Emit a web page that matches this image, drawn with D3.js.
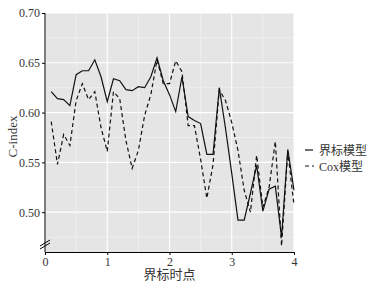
<!DOCTYPE html>
<html>
<head>
<meta charset="utf-8">
<script src="https://cdn.jsdelivr.net/npm/d3@7"></script>
<style>
  html, body { margin: 0; padding: 0; background: #fff; }
  svg { display: block; }
  text { font-family: "Liberation Serif", "Times New Roman", "Noto Sans CJK SC", serif; fill: #333; }
</style>
</head>
<body>
<svg id="chart" width="380" height="286"></svg>
<script>
// ---- data ----
const times = [0.1,0.2,0.3,0.4,0.5,0.6,0.7,0.8,0.9,1.0,
               1.1,1.2,1.3,1.4,1.5,1.6,1.7,1.8,1.9,2.0,
               2.1,2.2,2.3,2.4,2.5,2.6,2.7,2.8,2.9,3.0,
               3.1,3.2,3.3,3.4,3.5,3.6,3.7,3.8,3.9,4.0];
const landmarkValues = [0.621,0.614,0.613,0.607,0.638,0.642,0.642,0.653,0.636,0.611,
                        0.634,0.632,0.623,0.622,0.626,0.625,0.636,0.655,0.632,0.618,
                        0.601,0.636,0.596,0.592,0.589,0.558,0.558,0.625,0.584,0.539,
                        0.492,0.492,0.519,0.547,0.501,0.523,0.526,0.475,0.563,0.522];
const coxValues = [0.591,0.548,0.578,0.567,0.612,0.629,0.613,0.621,0.585,0.561,
                   0.621,0.614,0.572,0.544,0.562,0.597,0.618,0.653,0.629,0.629,
                   0.652,0.641,0.587,0.587,0.553,0.514,0.548,0.623,0.612,0.590,
                   0.562,0.522,0.500,0.557,0.505,0.525,0.571,0.466,0.561,0.507];
const seriesNames = ["界标模型", "Cox模型"];
const xTicks = [0,1,2,3,4];
const xMinorTicks = [0.5,1.5,2.5,3.5];
const yTicks = [0.50,0.55,0.60,0.65,0.70];
const yMinorTicks = [0.475,0.525,0.575,0.625,0.675];
const xTitle = "界标时点";
const yTitle = "C-index";

// ---- layout ----
const svg = d3.select("#chart");
const pL = 45, pR = 294, pT = 13, pB = 252;
const x = d3.scaleLinear().domain([0,4]).range([pL,pR]);
const y = d3.scaleLinear().domain([0.46,0.70]).range([pB,pT]);
const serif = '"Liberation Serif", "Times New Roman", "Noto Sans CJK SC", serif';

// panel
svg.append("rect").attr("x",pL).attr("y",pT).attr("width",pR-pL).attr("height",pB-pT)
  .attr("fill","#e5e5e5");

const grid = svg.append("g");
grid.selectAll(".ymin").data(yMinorTicks).join("line")
  .attr("x1",pL).attr("x2",pR).attr("y1",d=>y(d)).attr("y2",d=>y(d))
  .attr("stroke","#f5f5f5").attr("stroke-width",0.6);
grid.selectAll(".xmin").data(xMinorTicks).join("line")
  .attr("y1",pT).attr("y2",pB).attr("x1",d=>x(d)).attr("x2",d=>x(d))
  .attr("stroke","#f5f5f5").attr("stroke-width",0.6);
grid.selectAll(".ymaj").data(yTicks).join("line")
  .attr("x1",pL).attr("x2",pR).attr("y1",d=>y(d)).attr("y2",d=>y(d))
  .attr("stroke","#fff").attr("stroke-width",1.1);
grid.selectAll(".xmaj").data(xTicks).join("line")
  .attr("y1",pT).attr("y2",pB).attr("x1",d=>x(d)).attr("x2",d=>x(d))
  .attr("stroke","#fff").attr("stroke-width",1.1);

// lines
const line = d3.line().x((d,i)=>x(times[i])).y(d=>y(d));
svg.append("path").datum(landmarkValues).attr("d",line)
  .attr("fill","none").attr("stroke","#111").attr("stroke-width",1.2);
svg.append("path").datum(coxValues).attr("d",line)
  .attr("fill","none").attr("stroke","#111").attr("stroke-width",1.2)
  .attr("stroke-dasharray","4,3");

// axes
const xAxis = d3.axisBottom(x).tickValues(xTicks).tickFormat(d3.format("d")).tickSize(3).tickPadding(2);
const gx = svg.append("g").attr("transform",`translate(0,${pB})`).call(xAxis);
gx.attr("font-family", serif);
gx.select(".domain").attr("stroke","#000").attr("stroke-width",1);
gx.selectAll(".tick line").attr("stroke","#000");
gx.selectAll(".tick text").attr("font-size",12).attr("fill","#444").style("font-family",serif);

const yAxis = d3.axisLeft(y).tickValues(yTicks).tickFormat(d3.format(".2f")).tickSize(3).tickPadding(2);
const gy = svg.append("g").attr("transform",`translate(${pL},0)`).call(yAxis);
gy.attr("font-family", serif);
gy.select(".domain").attr("stroke","#000").attr("stroke-width",1)
  .attr("d",`M0,${pT}V${pB}`);
gy.selectAll(".tick line").attr("stroke","#000");
gy.selectAll(".tick text").attr("font-size",12).attr("fill","#444").style("font-family",serif);

// axis break mark
const brk = svg.append("g").attr("stroke","#000").attr("stroke-width",1);
brk.append("line").attr("x1",pL-5).attr("y1",pB-6).attr("x2",pL+5).attr("y2",pB-12);
brk.append("line").attr("x1",pL-5).attr("y1",pB-3).attr("x2",pL+5).attr("y2",pB-9);

// titles
svg.append("text").attr("x",(pL+pR)/2).attr("y",279).attr("text-anchor","middle")
  .attr("font-size",13).attr("fill","#333").text(xTitle);
svg.append("text").attr("transform",`translate(17,${(pT+pB)/2+4}) rotate(-90)`)
  .attr("text-anchor","middle").attr("font-size",13).attr("fill","#333").text(yTitle);

// legend
const leg = svg.append("g");
const legY = [150, 166];
leg.append("line").attr("x1",305).attr("x2",313).attr("y1",legY[0]).attr("y2",legY[0])
  .attr("stroke","#111").attr("stroke-width",1.2);
leg.append("line").attr("x1",305).attr("x2",314).attr("y1",legY[1]).attr("y2",legY[1])
  .attr("stroke","#111").attr("stroke-width",1.2).attr("stroke-dasharray","4,3");
leg.selectAll(".lt").data(seriesNames).join("text")
  .attr("x",319).attr("y",(d,i)=>legY[i]+4.5).attr("font-size",12).attr("fill","#333").text(d=>d);
</script>
</body>
</html>
